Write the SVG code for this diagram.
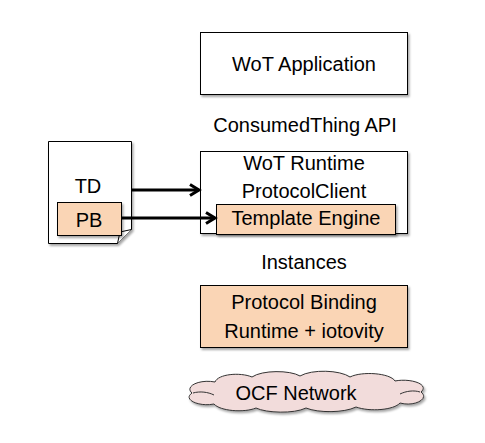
<svg xmlns="http://www.w3.org/2000/svg" width="485" height="443" viewBox="0 0 485 443">
<defs>
<style>
text{font-family:"Liberation Sans",Arial,sans-serif;font-size:20px;fill:#000;text-anchor:middle}
.box{fill:#fff;stroke:#000;stroke-width:1}
.orange{fill:#fad5b5;stroke:#000;stroke-width:1}
.conn{stroke:#000;stroke-width:3;fill:none}
</style>
<filter id="sh" x="-10%" y="-10%" width="130%" height="140%">
<feDropShadow dx="1.5" dy="2" stdDeviation="1.2" flood-color="#000" flood-opacity="0.35"/>
</filter>
<marker id="arr" markerUnits="userSpaceOnUse" markerWidth="14" markerHeight="14" refX="11" refY="7" orient="auto">
<path d="M2,1.5 L11,7 L2,12.5" stroke="#000" stroke-width="3" fill="none"/>
</marker>
</defs>
<rect width="485" height="443" fill="#fff"/>
<g id="wot-application">
<rect class="box" x="200.5" y="32.5" width="207" height="62" filter="url(#sh)"/>
<text x="304" y="71">WoT Application</text>
</g>
<g id="consumedthing-api">
<text x="305" y="132">ConsumedThing API</text>
</g>
<g id="wot-runtime">
<rect class="box" x="200.5" y="151.5" width="207" height="82" filter="url(#sh)"/>
<text x="304" y="170">WoT Runtime</text>
<text x="304" y="198">ProtocolClient</text>
</g>
<g id="template-engine">
<rect class="orange" x="216.5" y="204.5" width="179" height="30" filter="url(#sh)"/>
<text x="306" y="225">Template Engine</text>
</g>
<g id="td">
<path class="box" d="M48.5,141.5 H131.5 V229.5 L117.5,243.5 H48.5 Z" filter="url(#sh)"/>
<path d="M117.5,243.5 L120,232 L131.5,229.5" fill="#fff" stroke="#000" stroke-width="1"/>
<text x="88" y="193">TD</text>
</g>
<g id="pb">
<rect class="orange" x="57.5" y="202.5" width="64" height="33" filter="url(#sh)"/>
<text x="89" y="227">PB</text>
</g>
<g id="instances">
<text x="304" y="269">Instances</text>
</g>
<g id="protocol-binding">
<rect class="orange" x="200.5" y="285.5" width="207" height="62" filter="url(#sh)"/>
<text x="304" y="309">Protocol Binding</text>
<text x="304" y="338">Runtime + iotovity</text>
</g>
<g id="ocf-network">
<path d="M192,393 C184,386 200,379 215,382 C218,374 240,372 252,377 C262,370 290,370 300,376 C312,369 340,370 350,377 C362,371 390,373 395,381 C410,378 430,384 421,392 C430,399 414,407 400,403 C394,410 370,412 356,407 C344,413 318,413 306,408 C294,414 266,413 256,408 C244,413 220,411 214,404 C200,407 182,400 192,393 Z" fill="#f2dcdb" stroke="#333" stroke-width="1" filter="url(#sh)"/>
<path d="M193,393 C200,391 208,392 214,395 M420,392 C414,390 406,391 400,394" fill="none" stroke="#333" stroke-width="1"/>
<text x="296" y="400">OCF Network</text>
</g>
<g id="connectors">
<line class="conn" x1="131.5" y1="190" x2="199" y2="190" marker-end="url(#arr)"/>
<line class="conn" x1="122" y1="218" x2="215" y2="218" marker-end="url(#arr)"/>
</g>
</svg>
